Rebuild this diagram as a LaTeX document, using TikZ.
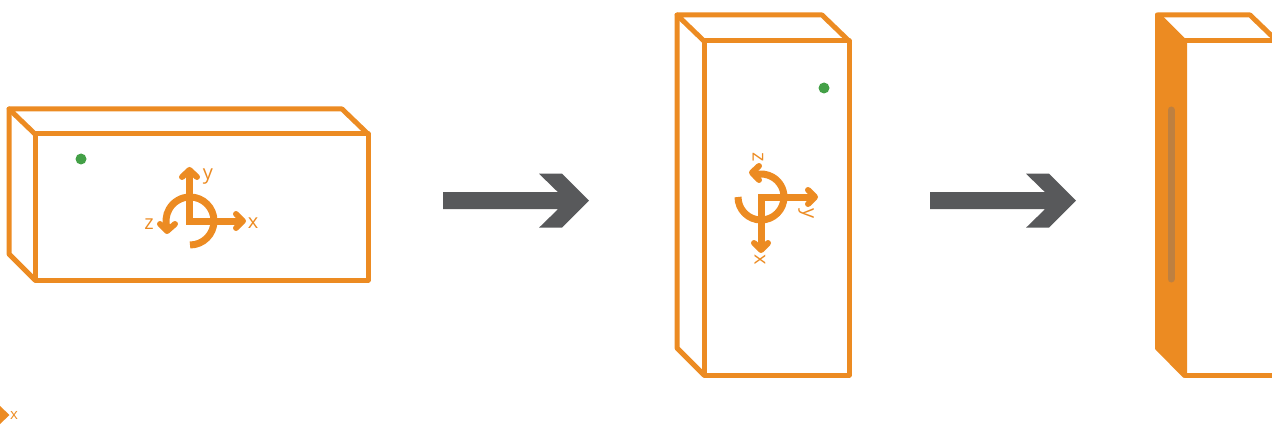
\documentclass[tikz,border=0pt]{standalone}
\usepackage{fontspec}
\setmainfont{Open Sans}
\definecolor{boxorange}{HTML}{EC8B22}
\definecolor{arrowgrey}{HTML}{58595B}
\definecolor{dotgreen}{HTML}{43A047}
\definecolor{slotbrown}{HTML}{BE8040}
\tikzset{
  boxline/.style={draw=boxorange,line width=5pt,line join=round,line cap=round},
  axisline/.style={draw=boxorange,line width=7pt,line join=miter},
  axishead/.style={draw=boxorange,line width=6pt,line join=round,line cap=round},
  axislabel/.style={text=boxorange,font=\fontsize{20}{20}\selectfont,inner sep=0pt},
  greydart/.pic={\fill[arrowgrey] (0,-8.5) -- (115,-8.5) -- (96,-27) -- (119,-27) -- (146,0) -- (119,27) -- (96,27) -- (115,8.5) -- (0,8.5) -- cycle;},
  greendot/.style={circle,fill=dotgreen,minimum size=11pt,inner sep=0pt}
}
\begin{document}
\begin{tikzpicture}[x=1pt,y=-1pt]
\useasboundingbox (0,0) rectangle (1272,433);
% first box
\draw[boxline] (35,134) rectangle (368,280);
\draw[boxline] (35,134) -- (9,109) -- (342,109) -- (368,134);
\draw[boxline] (9,109) -- (9,254) -- (35,280);
\node[greendot] (dotA) at (81,159) {};
% first axes
\draw[axisline] (189.5,172) -- (189.5,221) -- (241,221);
\draw[axisline] (190,245) arc[start angle=90,end angle=-200,radius=24] -- (167,231);
\draw[axishead] (182,177) -- (189.5,170) -- (197,177);
\draw[axishead] (236,214) -- (243,221) -- (236,228);
\draw[axishead] (160,224) -- (167,231) -- (175,224);
\node[axislabel] (yA) at (208,177) {y};
\node[axislabel] (xA) at (253,223) {x};
\node[axislabel] (zA) at (149,224) {z};
% grey arrows
\pic at (443,200.7) {greydart};
\pic at (930,200.7) {greydart};
% second box
\draw[boxline] (704,41) rectangle (849,375);
\draw[boxline] (704,41) -- (677,15) -- (822,15) -- (849,41);
\draw[boxline] (677,15) -- (677,348) -- (704,375);
\node[greendot] (dotB) at (824,88) {};
% second axes
\draw[axisline] (761,246) -- (761,197) -- (812,197);
\draw[axisline] (738,197) arc[start angle=180,end angle=-105,radius=23] -- (753,172.5);
\draw[axishead] (754,243) -- (761,250) -- (768,243);
\draw[axishead] (808,190) -- (815,197) -- (808,204);
\draw[axishead] (759,166) -- (752,172.5) -- (759,180);
\node[axislabel,rotate=-90] (zB) at (758,157) {z};
\node[axislabel,rotate=-90] (yB) at (806,214) {y};
\node[axislabel,rotate=-90] (xB) at (760,260) {x};
% third box, cut by the right edge
\fill[boxorange] (1155,15) [rounded corners=2pt] -- (1155,12.5) -- (1159,12.5) [sharp corners] -- (1187,40.5) -- (1187,377.5) -- (1183,377.5) -- (1155,349) -- cycle;
\draw[boxline] (1185,41) -- (1276,41);
\draw[boxline] (1185,375) -- (1276,375);
\draw[boxline] (1158,15) -- (1250,15) -- (1277,41);
\draw[slotbrown,line width=7pt,line cap=round] (1171,110) -- (1171,279);
% clipped axis mark at lower left
\fill[boxorange] (0,406) -- (9.5,415) -- (0,424) -- cycle;
\node[text=boxorange,font=\fontsize{15}{15}\selectfont,inner sep=0pt] (xC) at (14,415.5) {x};
\end{tikzpicture}
\end{document}
